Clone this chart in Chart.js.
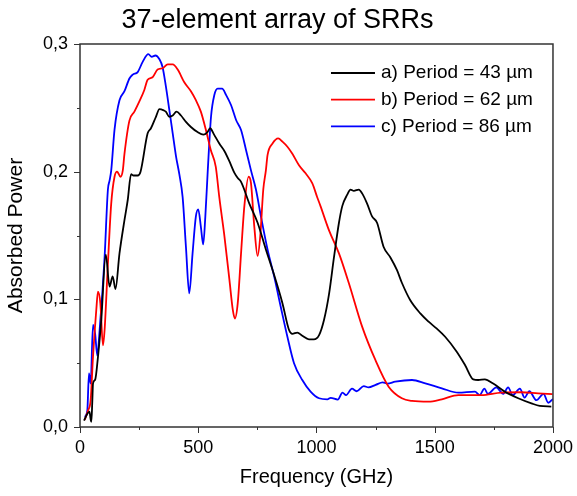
<!DOCTYPE html>
<html>
<head>
<meta charset="utf-8">
<script src="https://cdn.jsdelivr.net/npm/chart.js@4.4.1/dist/chart.umd.min.js"></script>
<style>
  html, body { margin: 0; padding: 0; background: #fff; }
  #wrap { width: 577px; height: 496px; position: relative; }
</style>
</head>
<body>
<div id="wrap"><canvas id="srrChart"></canvas></div>
<script>
// Series a) Period = 43 um
const freqA = [17, 30, 40, 45, 48, 52, 55, 64, 76, 90, 109, 125, 138, 150, 167, 188, 202, 216, 226, 244, 256, 286, 300, 321, 336, 354, 363, 378, 392, 408, 427, 448, 469, 497, 522, 539, 550, 567, 589, 611, 632, 653, 667, 681, 716, 751, 786, 821, 856, 884, 898, 919, 940, 968, 989, 1011, 1032, 1053, 1074, 1095, 1109, 1130, 1144, 1158, 1179, 1193, 1214, 1235, 1256, 1284, 1312, 1340, 1361, 1396, 1439, 1474, 1509, 1544, 1593, 1628, 1663, 1684, 1712, 1747, 1796, 1853, 1909, 1944, 1993];
const powerA = [0.005, 0.010, 0.012, 0.006, 0.004, 0.020, 0.034, 0.037, 0.055, 0.084, 0.135, 0.110, 0.118, 0.108, 0.136, 0.162, 0.178, 0.198, 0.197, 0.197, 0.200, 0.230, 0.234, 0.243, 0.249, 0.248, 0.247, 0.243, 0.244, 0.247, 0.244, 0.239, 0.235, 0.231, 0.229, 0.231, 0.234, 0.229, 0.222, 0.216, 0.208, 0.199, 0.195, 0.192, 0.175, 0.160, 0.139, 0.119, 0.097, 0.076, 0.073, 0.074, 0.0715, 0.0687, 0.0687, 0.072, 0.084, 0.104, 0.133, 0.160, 0.173, 0.182, 0.186, 0.185, 0.186, 0.183, 0.175, 0.165, 0.160, 0.141, 0.133, 0.123, 0.113, 0.0995, 0.089, 0.0825, 0.077, 0.0707, 0.059, 0.0486, 0.0373, 0.0368, 0.0373, 0.034, 0.0277, 0.0225, 0.0185, 0.0165, 0.016];

// Series b) Period = 62 um
const freqB = [20, 34, 45, 55, 69, 76, 86, 97, 104, 118, 132, 146, 157, 171, 181, 188, 209, 230, 251, 272, 286, 307, 328, 349, 371, 392, 413, 441, 469, 490, 511, 532, 553, 574, 589, 611, 632, 646, 655, 667, 681, 695, 713, 723, 737, 751, 762, 775, 786, 793, 814, 838, 856, 877, 898, 926, 954, 982, 1003, 1017, 1053, 1095, 1137, 1193, 1249, 1305, 1361, 1404, 1474, 1530, 1600, 1698, 1782, 1866, 1937, 1998];
const powerB = [0.0055, 0.013, 0.021, 0.055, 0.092, 0.106, 0.097, 0.064, 0.076, 0.128, 0.175, 0.196, 0.200, 0.196, 0.201, 0.214, 0.240, 0.247, 0.255, 0.264, 0.272, 0.274, 0.280, 0.281, 0.284, 0.284, 0.280, 0.270, 0.263, 0.256, 0.247, 0.233, 0.217, 0.204, 0.180, 0.149, 0.115, 0.092, 0.085, 0.097, 0.136, 0.173, 0.196, 0.191, 0.157, 0.134, 0.149, 0.186, 0.201, 0.213, 0.222, 0.226, 0.2235, 0.2195, 0.214, 0.205, 0.1987, 0.191, 0.180, 0.173, 0.154, 0.136, 0.1126, 0.0786, 0.0525, 0.0316, 0.0225, 0.0204, 0.0198, 0.0217, 0.025, 0.025, 0.027, 0.0272, 0.0264, 0.0258];

// Series c) Period = 86 um
const freqC = [20, 31, 38, 45, 55, 64, 73, 83, 104, 118, 125, 132, 146, 167, 188, 209, 223, 244, 265, 289, 303, 319, 336, 349, 363, 378, 392, 406, 420, 434, 448, 462, 476, 490, 500, 511, 521, 530, 540, 554, 568, 582, 601, 618, 639, 660, 681, 702, 723, 744, 765, 793, 821, 849, 877, 905, 940, 975, 1011, 1046, 1060, 1090, 1110, 1125, 1150, 1170, 1200, 1220, 1250, 1280, 1300, 1333, 1404, 1460, 1530, 1600, 1670, 1690, 1710, 1725, 1760, 1790, 1810, 1830, 1860, 1880, 1900, 1930, 1960, 1980, 2000];
const powerC = [0.008, 0.013, 0.042, 0.034, 0.080, 0.073, 0.056, 0.076, 0.133, 0.186, 0.193, 0.201, 0.233, 0.256, 0.263, 0.273, 0.276, 0.278, 0.286, 0.292, 0.290, 0.291, 0.288, 0.282, 0.267, 0.248, 0.230, 0.212, 0.198, 0.180, 0.141, 0.1047, 0.136, 0.165, 0.1705, 0.157, 0.143, 0.165, 0.200, 0.243, 0.260, 0.265, 0.265, 0.260, 0.252, 0.2405, 0.2326, 0.217, 0.201, 0.186, 0.165, 0.139, 0.118, 0.094, 0.0707, 0.050, 0.0368, 0.0277, 0.0225, 0.0217, 0.0228, 0.0215, 0.027, 0.025, 0.030, 0.028, 0.032, 0.031, 0.033, 0.035, 0.034, 0.0355, 0.0368, 0.0342, 0.0303, 0.0269, 0.0277, 0.025, 0.030, 0.026, 0.031, 0.026, 0.031, 0.025, 0.030, 0.023, 0.028, 0.021, 0.026, 0.019, 0.022];

const seriesLabels = ["a) Period = 43 \u00b5m", "b) Period = 62 \u00b5m", "c) Period = 86 \u00b5m"];
const seriesColors = ["#000000", "#ff0000", "#0000ff"];

const toPoints = (xs, ys) => xs.map((x, i) => ({ x: x, y: ys[i] }));

// frame, tick marks and in-plot legend
const framePlugin = {
  id: "frame",
  afterDraw(chart) {
    const c = chart.ctx;
    const a = chart.chartArea;
    c.save();
    c.strokeStyle = "#333";
    c.lineWidth = 1.5;
    c.strokeRect(a.left, a.top, a.right - a.left, a.bottom - a.top);

    c.lineWidth = 1;
    const xs = chart.scales.x;
    xs.ticks.forEach((t) => {
      const px = Math.round(xs.getPixelForValue(t.value)) + 0.5;
      const len = t.value % 500 === 0 ? 6 : 3;
      c.beginPath();
      c.moveTo(px, a.bottom);
      c.lineTo(px, a.bottom + len);
      c.stroke();
    });
    const ys = chart.scales.y;
    ys.ticks.forEach((t) => {
      const py = Math.round(ys.getPixelForValue(t.value)) + 0.5;
      const major = Math.abs(t.value * 10 - Math.round(t.value * 10)) < 1e-6;
      c.beginPath();
      c.moveTo(a.left, py);
      c.lineTo(a.left - (major ? 6 : 3), py);
      c.stroke();
    });

    // legend
    c.font = "19px 'Liberation Sans', Arial, sans-serif";
    c.textBaseline = "middle";
    chart.data.datasets.forEach((ds, i) => {
      const y = a.top + 29 + i * 26.7;
      const x0 = a.right - 222;
      c.strokeStyle = ds.borderColor;
      c.lineWidth = 1.8;
      c.beginPath();
      c.moveTo(x0, y);
      c.lineTo(x0 + 44, y);
      c.stroke();
      c.fillStyle = "#000";
      c.fillText(ds.label, x0 + 50, y);
    });
    c.restore();
  },
};

const ctx = document.getElementById("srrChart").getContext("2d");
const srrChart = new Chart(ctx, {
  type: "line",
  data: {
    datasets: [
      { label: seriesLabels[0], data: toPoints(freqA, powerA), borderColor: seriesColors[0] },
      { label: seriesLabels[1], data: toPoints(freqB, powerB), borderColor: seriesColors[1] },
      { label: seriesLabels[2], data: toPoints(freqC, powerC), borderColor: seriesColors[2] },
    ],
  },
  options: {
    responsive: true,
    maintainAspectRatio: false,
    animation: false,
    layout: { padding: { left: 0, right: 22, top: 0, bottom: 0 } },
    elements: {
      point: { radius: 0 },
      line: { borderWidth: 1.8, cubicInterpolationMode: "monotone", fill: false },
    },
    scales: {
      x: {
        type: "linear",
        min: 0,
        max: 2000,
        afterFit: (s) => { s.height = 69; },
        ticks: {
          stepSize: 250,
          autoSkip: false,
          maxRotation: 0,
          padding: 4,
          color: "#000",
          font: { family: "'Liberation Sans', Arial, sans-serif", size: 18 },
          callback: (v) => (v % 500 === 0 ? String(v) : ""),
        },
        grid: { drawOnChartArea: false, drawTicks: true, tickLength: 6, tickColor: "rgba(0,0,0,0)" },
        border: { display: false },
        title: {
          display: true,
          text: "Frequency (GHz)",
          color: "#000",
          font: { family: "'Liberation Sans', Arial, sans-serif", size: 20 },
          padding: { top: 0, bottom: 7 },
        },
      },
      y: {
        min: 0,
        max: 0.3,
        afterFit: (s) => { s.width = 80; },
        ticks: {
          stepSize: 0.05,
          autoSkip: false,
          padding: 6,
          color: "#000",
          font: { family: "'Liberation Sans', Arial, sans-serif", size: 18 },
          callback: (v) =>
            Math.abs(v * 10 - Math.round(v * 10)) < 1e-6 ? v.toFixed(1).replace(".", ",") : "",
        },
        grid: { drawOnChartArea: false, drawTicks: true, tickLength: 6, tickColor: "rgba(0,0,0,0)" },
        border: { display: false },
        title: {
          display: true,
          text: "Absorbed Power",
          color: "#000",
          font: { family: "'Liberation Sans', Arial, sans-serif", size: 21 },
          padding: { top: 4, bottom: 0 },
        },
      },
    },
    plugins: {
      legend: { display: false },
      tooltip: { enabled: false },
      title: {
        display: true,
        text: "37-element array of SRRs",
        color: "#000",
        font: { family: "'Liberation Sans', Arial, sans-serif", size: 27, weight: "normal" },
        padding: { top: 4, bottom: 7.6 },
      },
    },
  },
  plugins: [framePlugin],
});
</script>
</body>
</html>
